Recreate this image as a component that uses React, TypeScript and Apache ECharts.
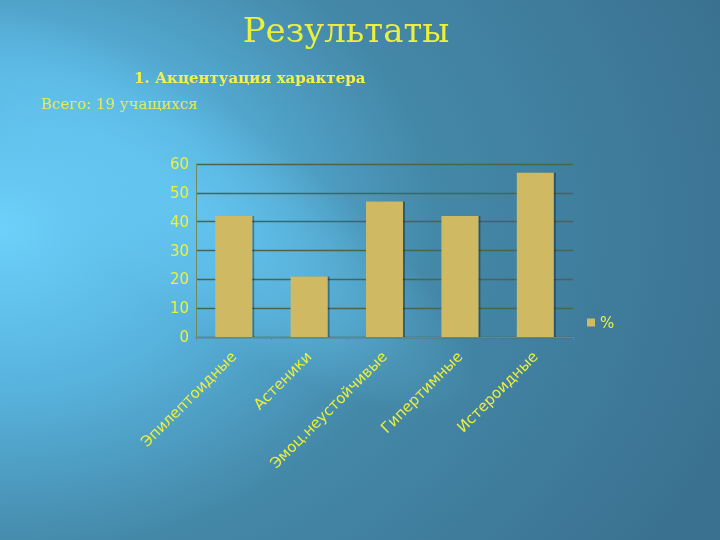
import React, { useEffect, useRef } from "react";
import * as echarts from "echarts";

const categories = ["Эпилептоидные", "Астеники", "Эмоц.неустойчивые", "Гипертимные", "Истероидные"];
const seriesName = "%";
const values = [42, 21, 47, 42, 57];
const titleText = "Результаты";
const subtitleText = "1. Акцентуация характера";
const totalText = "Всего: 19 учащихся";

const YELLOW = "#ecf03c";
const SERIF = "'DejaVu Serif', serif";
const SANS = "'DejaVu Sans', sans-serif";

export default function App() {
  const ref = useRef<HTMLDivElement>(null);
  useEffect(() => {
    if (!ref.current) return;
    const chart = echarts.init(ref.current, null, { renderer: "svg" });
    chart.setOption({
      animation: false,
      backgroundColor: new echarts.graphic.RadialGradient(0, 0.42, 1.1, [
        { offset: 0, color: "#6cd1fa" },
        { offset: 0.28, color: "#57b2dc" },
        { offset: 0.55, color: "#4488a8" },
        { offset: 1, color: "#3a7090" },
      ]),
      graphic: [
        {
          type: "ellipse",
          shape: { cx: 0, cy: 0, rx: 340, ry: 100 },
          x: 190,
          y: 205,
          rotation: -0.6,
          style: {
            fill: new echarts.graphic.RadialGradient(0.5, 0.5, 0.5, [
              { offset: 0, color: "rgba(105,205,248,0.6)" },
              { offset: 0.6, color: "rgba(105,205,248,0.3)" },
              { offset: 1, color: "rgba(105,205,248,0)" },
            ]),
          },
          silent: true,
          z: -10,
        },
        {
          type: "text",
          x: 346,
          y: 30,
          style: {
            text: titleText,
            fill: YELLOW,
            font: `34px ${SERIF}`,
            textAlign: "center",
            textVerticalAlign: "middle",
          },
        },
        {
          type: "text",
          x: 134,
          y: 78,
          style: {
            text: subtitleText,
            fill: "#f0f24a",
            font: `bold 15px ${SERIF}`,
            textAlign: "left",
            textVerticalAlign: "middle",
          },
        },
        {
          type: "text",
          x: 41,
          y: 104,
          style: {
            text: totalText,
            fill: "#e4ec58",
            font: `15px ${SERIF}`,
            textAlign: "left",
            textVerticalAlign: "middle",
          },
        },
      ],
      legend: {
        data: [seriesName],
        left: 582,
        top: 310,
        orient: "vertical",
        itemWidth: 8,
        itemHeight: 8,
        itemGap: 4,
        icon: "rect",
        textStyle: { color: YELLOW, fontSize: 15, fontFamily: SANS },
      },
      grid: { left: 196, right: 147, top: 164, bottom: 203, containLabel: false },
      xAxis: {
        type: "category",
        data: categories,
        axisLine: { show: true, lineStyle: { color: "#6f8a5e", width: 1 } },
        axisTick: { show: true, length: 3, lineStyle: { color: "#6f8a5e" } },
        axisLabel: {
          rotate: 45,
          interval: 0,
          color: YELLOW,
          fontSize: 15,
          fontFamily: SANS,
          margin: 17,
        },
      },
      yAxis: {
        type: "value",
        min: 0,
        max: 60,
        interval: 10,
        axisLine: { show: true, lineStyle: { color: "#6f8a5e", width: 1 } },
        axisTick: { show: false },
        axisLabel: { color: YELLOW, fontSize: 15, fontFamily: SANS, margin: 7 },
        splitLine: { show: true, lineStyle: { color: "#4a6450", width: 1.3 } },
      },
      series: [
        {
          name: seriesName,
          type: "bar",
          data: values,
          barWidth: "49%",
          itemStyle: {
            color: "#cfba63",
            shadowColor: "rgba(0,0,0,0.35)",
            shadowOffsetX: 2,
            shadowOffsetY: 0,
            shadowBlur: 1,
          },
        },
      ],
    });
    return () => chart.dispose();
  }, []);
  return (
    <div
      ref={ref}
      style={{ position: "fixed", left: 0, top: 0, width: 720, height: 540 }}
    />
  );
}
